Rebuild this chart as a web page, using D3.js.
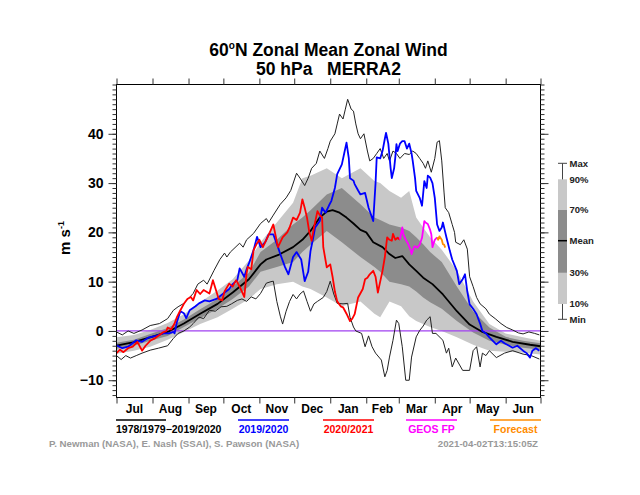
<!DOCTYPE html>
<html><head><meta charset="utf-8">
<script src="https://cdn.jsdelivr.net/npm/d3@7"></script>
<style>
body{margin:0;background:#fff}
svg{display:block}
text{font-family:"Liberation Sans",Arial,Helvetica,sans-serif;font-weight:bold}
</style>
</head><body>
<svg id="chart" width="640" height="495"></svg>
<script>
// ---------------- DATA ----------------
const monthLabels = ["Jul","Aug","Sep","Oct","Nov","Dec","Jan","Feb","Mar","Apr","May","Jun"];
const monthStarts = [0,31,62,92,123,153,184,215,243,274,304,335,365];
const yMajorTicks = [-10,0,10,20,30,40];

// climatology percentile bands (day since Jul 1)
const bandDays = [0,15,29,44,58,72,87,100,114,124,138,152,160,167,181,194,210,222,227,235,245,252,258,264,270,280,293,307,321,335,350,365];
const p10 = [-4.6,-4,-3.2,-1.8,-0.2,1.4,2.8,4.5,6.5,8.5,9.5,10,9,8.5,6.8,5,6,3.5,2.8,6,5,3,2,1.4,0.8,0,-1.3,-2.8,-4,-4.2,-4.4,-4.8];
const p30 = [-3.6,-3,-2,-1,0.8,2.6,4.5,6.5,9,12,13,14,16,17.5,20.3,18,15,13,12,10,9.5,9,8,6.8,5.8,4.5,2,-0.3,-2,-2.8,-3.4,-3.8];
const p70 = [-2.4,-1.8,-0.6,0.6,2.3,4.4,6.5,9,11.8,16,18.5,21.6,23,24.5,27.7,29,25.7,23,22.5,21.6,21,20.3,19,17.6,16,14,9,4,0.7,-1.2,-2,-2.5];
const p90 = [-1.3,-0.8,0.2,1.6,3.4,5.8,8.2,10.5,14.3,18,22,26,31,31.5,33,31,33,30.4,30,28.4,27,28.4,23,21,19,16.5,12.2,6,1.4,-0.5,-1.3,-2];

const climMean = [[0,-3],[14,-2.3],[29,-1.3],[44,-0.2],[58,1.5],[72,3.5],[87,5.5],[100,7.8],[114,10.5],[124,13.5],[129,14.5],[140,15.5],[152,17],[160,18.5],[167,20.3],[175,23],[181,24.2],[186,24.5],[192,24],[198,23],[204,21.8],[210,20.5],[215,20],[221,18],[229,17],[235,15.6],[240,14.8],[246,15.2],[252,13.5],[258,12.2],[264,10.8],[272,9.5],[281,7.4],[293,4],[304,1.3],[315,-0.2],[327,-1.2],[341,-2.2],[356,-2.8],[365,-3.1]];

const climMax = [[0,-0.2],[5,-0.8],[10,0],[15,-0.5],[22,0.2],[29,1.1],[37,1.5],[44,2.5],[49,4.2],[53,4.9],[58,5.6],[66,7.6],[70,9.5],[75,10.3],[78,9.5],[84,12.3],[89,14.5],[93,15.8],[95,15],[98,16],[106,17.8],[109,17],[112,18.5],[118,19.8],[124,21.8],[129,22.8],[131,22],[135,23.5],[141,25.7],[146,27],[150,28.5],[155,32],[158,31],[162,29.5],[165,31],[168,33],[172,34],[175,36.5],[179,35],[182,37],[184,38.5],[188,40],[190,42],[192,44],[195,43],[197,45],[199,47],[202,45],[204,44.6],[206,42],[208,40],[210,39],[213,40],[216,36.5],[218,34.5],[221,35],[224,36],[227,37],[230,35],[233,36],[235,34.5],[238,36.5],[241,36],[244,35],[248,36],[252,35.8],[255,36.5],[258,36],[261,35],[264,34],[266,33],[268,34.5],[271,32.2],[274,35],[276,38.3],[278,38.6],[280,34.5],[282,28],[283,25],[286,24],[289,21.6],[291,20],[292,18],[296,17.5],[299,18.5],[302,16.6],[304,11],[307,9],[310,6.8],[313,5.5],[318,4.5],[321,3.4],[326,2.5],[331,1.5],[336,0.7],[341,0.2],[346,-0.4],[350,-0.6],[355,-0.2],[360,-0.5],[364,-0.8]];

const climMin = [[0,-5],[4,-5.8],[8,-5],[12,-5.5],[17,-5],[22,-4.5],[29,-3.9],[36,-3.5],[44,-3],[49,-1.5],[53,-0.5],[58,0],[63,0.8],[66,1.5],[71,2.8],[75,2.5],[80,4.2],[85,4],[90,4.9],[95,5],[99,5.5],[104,6.2],[108,6.5],[112,6],[116,6.9],[120,6.5],[124,7.6],[129,9.7],[133,10],[135,10.1],[138,6],[141,3],[143,1.4],[146,4],[149,6],[152,7.4],[155,6.5],[158,7.5],[161,8.1],[164,6],[167,4],[170,5.5],[173,6],[178,6.8],[181,8],[184,10.1],[187,7.5],[190,5.6],[195,5.5],[199,5.6],[201,2.8],[204,0.8],[206,0],[211,-0.5],[214,-3.2],[217,-1],[220,-3.2],[223,-4.5],[228,-5.9],[231,-9.3],[233,-8],[235,-5.3],[238,-1.9],[241,2.2],[243,1.5],[246,-3.2],[249,-10],[252,-10],[254,-5.3],[258,-1.2],[261,0.1],[264,1],[267,2.2],[270,2.9],[272,-0.5],[275,-0.5],[281,-1.9],[284,-4.5],[286,-3.5],[289,-7.3],[292,-5.5],[298,-8],[304,-8],[307,-4],[310,-3.2],[313,-7.3],[315,-4.5],[318,-5],[321,-4],[327,-5.4],[334,-4.5],[341,-4],[350,-4.7],[357,-5],[364,-5.7]];

const season2019 = [[0,-2.9],[5,-3.5],[10,-3.2],[17,-1.9],[22,-2.2],[28,-1.3],[34,-1],[40,-0.5],[45,-0.5],[49,-0.2],[50,-0.5],[52,1.8],[55,4],[58,3.6],[60,2.6],[63,4.2],[68,5],[71,5.6],[76,6.2],[80,6],[86,6.5],[92,7.6],[97,8.5],[100,9.5],[104,10.3],[106,12.7],[110,11],[112,12.5],[114,13.7],[118,16.4],[121,19.1],[124,17],[128,18],[131,19.6],[135,19.6],[139,17],[141,15.6],[145,13],[148,11.5],[152,15],[155,16],[159,14.5],[162,10.1],[165,12],[167,16.2],[169,18.5],[171,21],[175,22.3],[177,25],[180,24],[183,25.5],[185,26.4],[188,29],[190,31.8],[194,33.8],[196,36],[198,38.2],[200,35],[201,31],[204,30.5],[205,29.8],[208,28.5],[210,27.7],[214,28],[217,25],[221,22.3],[223,30],[224,35.2],[227,35],[229,36.5],[231,39],[232,40.2],[234,38],[236,33],[237,31],[239,33],[240,35.2],[241,37.9],[242,36.5],[244,38],[246,38.5],[248,38.5],[250,37],[252,38],[254,36],[255,34.5],[257,31],[258,28.4],[261,27],[263,25.4],[265,30.4],[267,29],[268,31.5],[270,31.1],[272,30],[274,27],[276,21.6],[278,20.3],[280,21],[281,22],[283,20],[284,19],[287,16.2],[289,14.5],[293,12.2],[295,9.5],[298,10.5],[300,11.5],[302,8],[304,5.4],[307,4.5],[310,3.4],[313,1.5],[315,0],[318,-0.5],[321,-1.3],[324,-2],[327,-2.7],[331,-2],[334,-2.5],[338,-3],[341,-3.4],[345,-3],[350,-4],[353,-4.5],[356,-5.4],[358,-4],[361,-3.5],[364,-4]];

const season2020 = [[0,-4.5],[3,-3.8],[6,-4.3],[10,-3.5],[14,-3.2],[18,-2.2],[22,-4],[25,-3],[29,-2],[33,-1.5],[40,-0.3],[43,0],[44,0.7],[47,0.3],[50,1.5],[52,2.8],[55,4.2],[58,5.5],[61,6.5],[64,6.9],[66,6.2],[69,8.3],[72,7.5],[75,8.3],[80,7.6],[83,10.3],[86,8],[88,6.5],[91,6.2],[93,8],[97,9.6],[100,9],[103,10.3],[106,9],[110,6.9],[112,11.7],[113,13],[116,12.5],[118,16.4],[121,17.8],[123,18.5],[126,17],[129,18.5],[132,20],[135,21.6],[139,17],[143,19],[147,20],[149,21],[152,23],[155,22.5],[158,24],[160,26.7],[162,25],[164,23],[166,20],[168,18.3],[170,21],[173,24.3],[175,23.5],[177,23],[178,17],[181,12.9],[184,13.5],[186,11],[188,8],[190,6],[193,5],[195,4.8],[198,3.5],[201,2],[203,2.5],[205,3.4],[208,6.8],[212,8.5],[214,10.5],[216,10.8],[218,11.5],[221,12.2],[223,11],[225,7.8],[227,10],[229,12.2],[231,15],[233,19],[235,18.5],[237,18.3],[238,19.7],[240,18.5],[242,18.9],[244,18.5]];

const geosFP = [[244,18.5],[246,21],[247,19.6],[249,18.5],[251,17.7],[253,16.5],[254,15.6],[256,17],[257,17.2],[259,16.9],[261,17.5],[263,18.9],[265,22.3],[266,22],[268,21.7],[270,20.5],[271,19.6],[272,17],[274,18.5],[276,19]];
const forecast = [[276,19],[277,18.5],[278,19.2],[280,18.5],[281,17.6],[282,17.5],[283,16.9]];

const legendLabels = ["1978/1979\u22122019/2020","2019/2020","2020/2021","GEOS FP","Forecast"];
const legendColors = ["#000000","#0000ff","#ff0000","#ff00ff","#ff8c00"];
const boxLabels = ["Max","90%","70%","Mean","30%","10%","Min"];

// ---------------- DRAW ----------------
const svg = d3.select("#chart");
const L = 116.5, R = 540.5, T = 84.5, B = 397.5;
const x = d3.scaleLinear().domain([0,365]).range([L,R]);
const y = d3.scaleLinear().domain([-13.5,50]).range([B,T]);

const lightGray = "#c8c8c8", darkGray = "#8c8c8c";

// bands
const bandIdx = d3.range(bandDays.length);
svg.append("path").attr("fill",lightGray)
  .attr("d", d3.area().x(i=>x(bandDays[i])).y0(i=>y(p10[i])).y1(i=>y(p90[i]))(bandIdx));
svg.append("path").attr("fill",darkGray)
  .attr("d", d3.area().x(i=>x(bandDays[i])).y0(i=>y(p30[i])).y1(i=>y(p70[i]))(bandIdx));

// zero line
svg.append("line").attr("x1",L).attr("x2",R).attr("y1",y(0)).attr("y2",y(0))
  .attr("stroke","#a040f0").attr("stroke-width",1.2);

const line = d3.line().x(d=>x(d[0])).y(d=>y(d[1]));
function drawLine(data,color,w){
  svg.append("path").datum(data).attr("d",line).attr("fill","none")
    .attr("stroke",color).attr("stroke-width",w).attr("stroke-linejoin","round");
}
drawLine(climMax,"#222",1);
drawLine(climMin,"#222",1);
drawLine(climMean,"#000",1.8);
drawLine(season2019,"#0000ff",1.8);
drawLine(season2020,"#ff0000",1.8);
drawLine(geosFP,"#ff00ff",1.8);
drawLine(forecast,"#ff8c00",1.8);

// frame
svg.append("rect").attr("x",L).attr("y",T).attr("width",R-L).attr("height",B-T)
  .attr("fill","none").attr("stroke","#000").attr("stroke-width",1);

// axes
const yMinor = d3.range(-13,51);
function yAxes(){
  const gl = svg.append("g").attr("transform",`translate(${L},0)`);
  gl.call(d3.axisLeft(y).tickValues(yMinor).tickSize(4).tickFormat(""));
  gl.call(g=>g.select(".domain").remove());
  const gl2 = svg.append("g").attr("transform",`translate(${L},0)`);
  gl2.call(d3.axisLeft(y).tickValues(yMajorTicks).tickSize(8).tickPadding(5).tickFormat(d3.format("d")));
  gl2.select(".domain").remove();
  gl2.selectAll("text").attr("font-size",14).attr("font-family","Liberation Sans, Arial, sans-serif").attr("font-weight","bold").attr("fill","#000");
  const gr = svg.append("g").attr("transform",`translate(${R},0)`);
  gr.call(d3.axisRight(y).tickValues(yMinor).tickSize(4).tickFormat(""));
  gr.select(".domain").remove();
  const gr2 = svg.append("g").attr("transform",`translate(${R},0)`);
  gr2.call(d3.axisRight(y).tickValues(yMajorTicks).tickSize(8).tickFormat(""));
  gr2.select(".domain").remove();
}
yAxes();

const gb = svg.append("g").attr("transform",`translate(0,${B})`);
gb.call(d3.axisBottom(x).tickValues(monthStarts).tickSize(6).tickFormat(""));
gb.select(".domain").remove();
const gt = svg.append("g").attr("transform",`translate(0,${T})`);
gt.call(d3.axisTop(x).tickValues(monthStarts).tickSize(6).tickFormat(""));
gt.select(".domain").remove();
svg.selectAll(".tick line").attr("stroke","#333");

// month labels
svg.append("g").selectAll("text").data(monthLabels).join("text")
  .attr("x",(d,i)=>x((monthStarts[i]+monthStarts[i+1])/2))
  .attr("y",412.5).attr("text-anchor","middle").attr("font-size",12).text(d=>d);

// title
const title = svg.append("text").attr("x",(L+R)/2).attr("y",56).attr("text-anchor","middle").attr("font-size",17.5);
title.append("tspan").text("60");
title.append("tspan").attr("font-size",10).attr("dy",-7).text("o");
title.append("tspan").attr("dy",7).text("N Zonal Mean Zonal Wind");
svg.append("text").attr("x",(L+R)/2).attr("y",74.5).attr("text-anchor","middle").attr("font-size",17.5)
  .style("white-space","pre").text("50 hPa   MERRA2");

// y label
const yl = svg.append("text").attr("transform","translate(70,238) rotate(-90)").attr("text-anchor","middle").attr("font-size",15);
yl.append("tspan").text("m s");
yl.append("tspan").attr("font-size",9).attr("dy",-6).text("-1");

// bottom legend
const legX = [116,238,323,406,490];
legendLabels.forEach((lab,i)=>{
  svg.append("line").attr("x1",legX[i]).attr("x2",legX[i]+(i===0?50:51)).attr("y1",420).attr("y2",420)
    .attr("stroke",legendColors[i]).attr("stroke-width",1.5);
  const t = svg.append("text").attr("y",432.5).attr("font-size",10.5).attr("fill",legendColors[i]).text(lab);
  if(i===0) t.attr("x",legX[i]).attr("text-anchor","start");
  else t.attr("x",legX[i]+25.5).attr("text-anchor","middle");
});

// credits
svg.append("text").attr("x",49).attr("y",446.5).attr("font-size",9.7).attr("fill","#999")
  .text("P. Newman (NASA), E. Nash (SSAI), S. Pawson (NASA)");
svg.append("text").attr("x",538).attr("y",446.5).attr("font-size",9.7).attr("fill","#999").attr("text-anchor","end")
  .text("2021-04-02T13:15:05Z");

// right box legend
const boxY = [163.3,179.3,210,240.7,272.7,304,319.3];
const bx = 558, bw = 9, bc = bx + bw/2;
const bl = svg.append("g");
bl.append("line").attr("x1",bc).attr("x2",bc).attr("y1",boxY[0]).attr("y2",boxY[6]).attr("stroke","#444").attr("stroke-width",1);
bl.append("line").attr("x1",bx).attr("x2",bx+bw).attr("y1",boxY[0]).attr("y2",boxY[0]).attr("stroke","#444");
bl.append("line").attr("x1",bx).attr("x2",bx+bw).attr("y1",boxY[6]).attr("y2",boxY[6]).attr("stroke","#444");
bl.append("rect").attr("x",bx).attr("y",boxY[1]).attr("width",bw).attr("height",boxY[5]-boxY[1]).attr("fill",lightGray);
bl.append("rect").attr("x",bx).attr("y",boxY[2]).attr("width",bw).attr("height",boxY[4]-boxY[2]).attr("fill",darkGray);
bl.append("line").attr("x1",bx).attr("x2",bx+bw).attr("y1",boxY[3]).attr("y2",boxY[3]).attr("stroke","#000").attr("stroke-width",1.5);
bl.selectAll("text").data(boxLabels).join("text")
  .attr("x",bx+bw+2.5).attr("y",(d,i)=>boxY[i]).attr("dy","0.35em").attr("font-size",9.5).attr("fill","#222").text(d=>d);
</script>
</body></html>
